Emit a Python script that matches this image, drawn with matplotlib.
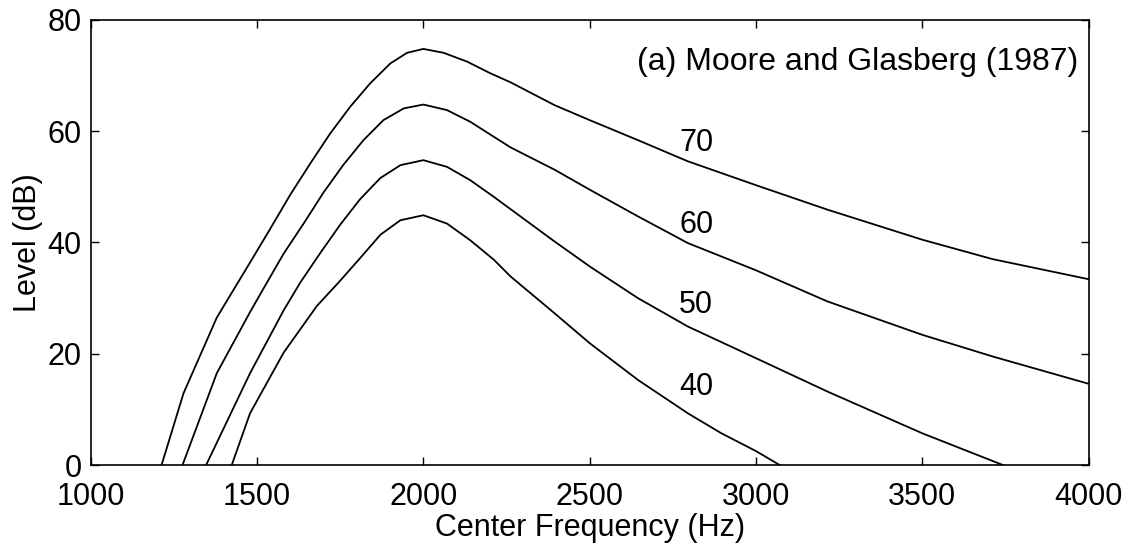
import matplotlib
matplotlib.use("Agg")
import matplotlib.pyplot as plt

plt.rcParams['font.family'] = ['Liberation Sans', 'DejaVu Sans']

# Curve data (frequency in Hz, level in dB)
freq_70 = [1213, 1279, 1379, 1489, 1540, 1600, 1660, 1720, 1780, 1840, 1901, 1951, 2000,
           2061, 2132, 2202, 2262, 2394, 2500, 2645, 2795, 3000, 3215, 3500, 3712, 4000]
level_70 = [0, 12.9, 26.5, 37.4, 42.5, 48.6, 54.2, 59.6, 64.4, 68.6, 72.2, 74.1, 74.8,
            74.1, 72.5, 70.4, 68.8, 64.7, 62.0, 58.4, 54.6, 50.3, 45.9, 40.5, 37.0, 33.4]

freq_60 = [1276, 1379, 1479, 1525, 1580, 1640, 1700, 1760, 1820, 1880, 1941, 2000,
           2071, 2141, 2212, 2262, 2394, 2500, 2645, 2795, 3000, 3215, 3500, 3712, 4000]
level_60 = [0, 16.5, 27.5, 32.3, 38.0, 43.4, 49.0, 54.0, 58.4, 62.0, 64.1, 64.8,
            63.8, 61.7, 59.0, 57.1, 53.1, 49.5, 44.7, 39.9, 35.0, 29.4, 23.4, 19.5, 14.6]

freq_50 = [1347, 1479, 1580, 1630, 1690, 1750, 1810, 1871, 1931, 2000,
           2071, 2141, 2212, 2262, 2394, 2500, 2645, 2795, 3000, 3215, 3500, 3742]
level_50 = [0, 16.5, 27.8, 32.8, 38.1, 43.2, 47.8, 51.6, 53.9, 54.8,
            53.6, 51.2, 48.2, 46.0, 40.2, 35.7, 30.0, 24.9, 19.2, 13.2, 5.7, 0]

freq_40 = [1424, 1479, 1580, 1680, 1745, 1810, 1871, 1931, 2000,
           2071, 2141, 2212, 2262, 2394, 2500, 2645, 2795, 2896, 3000, 3071]
level_40 = [0, 9.3, 20.2, 28.6, 32.8, 37.2, 41.4, 44.0, 44.9,
            43.4, 40.4, 36.9, 33.9, 27.3, 21.9, 15.3, 9.3, 5.7, 2.5, 0]

curve_labels = ["70", "60", "50", "40"]
label_freq = [2820, 2820, 2820, 2820]
label_level = [57.9, 43.1, 28.8, 14.1]

x_ticks = [1000, 1500, 2000, 2500, 3000, 3500, 4000]
y_ticks = [0, 20, 40, 60, 80]

fig = plt.figure(figsize=(11.34, 5.52), dpi=100)
ax = fig.add_axes([0.080, 0.1576, 0.880, 0.8062])

for f, l in [(freq_70, level_70), (freq_60, level_60), (freq_50, level_50), (freq_40, level_40)]:
    ax.plot(f, l, color='black', linewidth=1.3, solid_joinstyle='round')

for t, fx, ly in zip(curve_labels, label_freq, label_level):
    ax.text(fx, ly, t, fontsize=22, ha='center', va='center', color='black')

ax.text(0.990, 0.906, "(a) Moore and Glasberg (1987)", transform=ax.transAxes,
        fontsize=23, ha='right', va='center', color='black')

ax.set_xlim(1000, 4000)
ax.set_ylim(0, 80)
ax.set_xticks(x_ticks)
ax.set_yticks(y_ticks)
ax.tick_params(direction='in', top=True, right=True, length=6, width=1,
               labelsize=22, colors='black')
ax.tick_params(axis='x', pad=12.5)
ax.tick_params(axis='y', pad=6.5)
for s in ax.spines.values():
    s.set_linewidth(1.2)
    s.set_color('black')

ax.set_xlabel("Center Frequency (Hz)", fontsize=22, labelpad=0.5)
ax.set_ylabel("Level (dB)", fontsize=22, labelpad=3)

fig.savefig("out.png", dpi=100, facecolor='white')
